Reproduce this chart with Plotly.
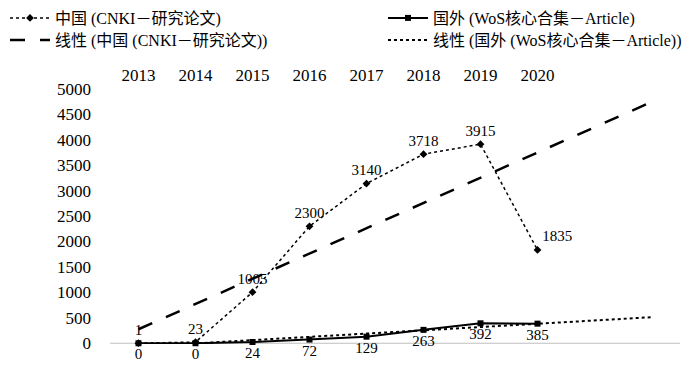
import plotly.graph_objects as go

years = ["2013", "2014", "2015", "2016", "2017", "2018", "2019", "2020"]
x_idx = [1, 2, 3, 4, 5, 6, 7, 8]
china = [1, 23, 1005, 2300, 3140, 3718, 3915, 1835]
foreign = [0, 0, 24, 72, 129, 263, 392, 385]
china_label_pos = ["top center", "top center", "top center", "top center", "top center",
                   "top center", "top center", "top right"]
# trendline endpoints (forecast 2 periods forward)
trend_x = [1, 10]
china_trend = [275, 4744]
foreign_trend = [-68, 512]

names = ["中国 (CNKI－研究论文)", "国外 (WoS核心合集－Article)",
         "线性 (中国 (CNKI－研究论文))", "线性 (国外 (WoS核心合集－Article))"]

serif = "Liberation Serif, Noto Sans CJK SC, serif"

fig = go.Figure()
fig.add_trace(go.Scatter(
    x=x_idx, y=china, name=names[0], mode="lines+markers+text", legend="legend",
    line=dict(color="black", width=1.5, dash="dot"),
    marker=dict(symbol="diamond", size=6, color="black"),
    text=[str(v) for v in china], textposition=china_label_pos,
    textfont=dict(family=serif, size=15, color="black"), cliponaxis=False))
fig.add_trace(go.Scatter(
    x=x_idx, y=foreign, name=names[1], mode="lines+markers+text", legend="legend2",
    line=dict(color="black", width=2),
    marker=dict(symbol="square", size=6, color="black"),
    text=[str(v) for v in foreign], textposition="bottom center",
    textfont=dict(family=serif, size=15, color="black"), cliponaxis=False))
fig.add_trace(go.Scatter(
    x=trend_x, y=china_trend, name=names[2], mode="lines", legend="legend3",
    line=dict(color="black", width=2.5, dash="longdash")))
fig.add_trace(go.Scatter(
    x=trend_x, y=foreign_trend, name=names[3], mode="lines", legend="legend4",
    line=dict(color="black", width=2, dash="dot")))

fig.add_shape(type="line", xref="paper", yref="y", x0=0, x1=1, y0=0, y1=0,
              line=dict(color="#bfbfbf", width=1.2), layer="below")

leg_common = dict(orientation="v", xref="container", yref="container",
                  xanchor="left", yanchor="middle", tracegroupgap=0,
                  font=dict(family=serif, size=16), itemwidth=40,
                  bgcolor="rgba(0,0,0,0)")
H = 365.0
fig.update_layout(
    width=700, height=365,
    margin=dict(l=110, r=20, t=89, b=21, autoexpand=False),
    paper_bgcolor="white", plot_bgcolor="white",
    font=dict(family=serif, size=16, color="black"),
    showlegend=True,
    legend=dict(x=5 / 700, y=1 - 18 / H, **leg_common),
    legend3=dict(x=5 / 700, y=1 - 40 / H, **leg_common),
    legend2=dict(x=383 / 700, y=1 - 18 / H, **leg_common),
    legend4=dict(x=383 / 700, y=1 - 40 / H, **leg_common),
    xaxis=dict(range=[0.5, 10.5], tickmode="array", tickvals=x_idx, ticktext=years,
               side="top", showline=False, showgrid=False, zeroline=False,
               ticks="", ticklabelstandoff=4, tickfont=dict(family=serif, size=17)),
    yaxis=dict(range=[-15, 5000], tickmode="linear", tick0=0, dtick=500,
               showline=False, showgrid=False, zeroline=False, ticks="",
               ticklabelstandoff=18, tickfont=dict(family=serif, size=17)),
)

fig.write_html("out.html", config={"displayModeBar": False},
               post_script="document.body.style.margin='0';")
